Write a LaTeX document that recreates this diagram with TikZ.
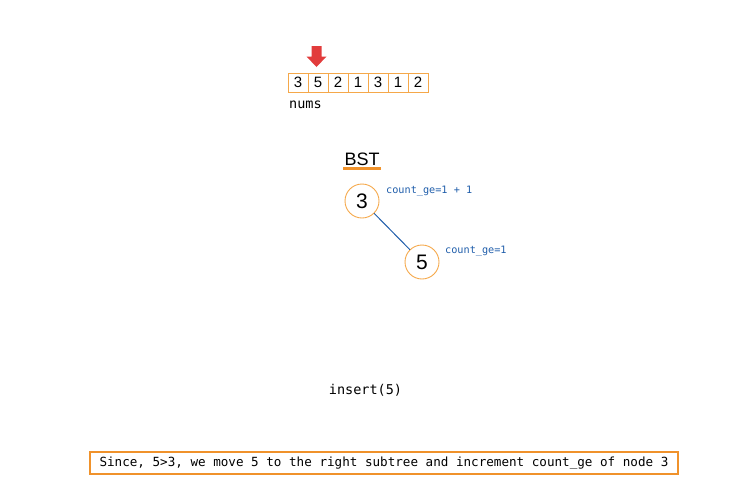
\documentclass[tikz,border=0pt]{standalone}
\usepackage{fontspec}
\setmainfont{Liberation Sans}
\setmonofont{DejaVu Sans Mono}
\usetikzlibrary{arrows.meta}
\begin{document}
\begin{tikzpicture}
[x=1pt,y=-1pt,line cap=round,
% Styles
cell/.style={draw=cellcolor,line width=1pt,minimum width=20pt,minimum height=19pt,inner sep=0pt,font=\fontsize{15}{15}\selectfont},
tree node/.style={circle,draw=cellcolor,line width=0.9pt,minimum size=34pt,inner sep=0pt,font=\fontsize{21}{21}\selectfont},
count text/.style={text=edgecolor,font=\ttfamily\fontsize{10.2}{10}\selectfont,anchor=west,inner sep=0pt},
mono text/.style={font=\ttfamily\fontsize{13.5}{14}\selectfont,inner sep=0pt}]
% Colors
\definecolor{cellcolor}{HTML}{F5A84A}
\definecolor{boxcolor}{HTML}{F0922B}
\definecolor{edgecolor}{HTML}{1F5DAA}
\definecolor{arrowcolor}{HTML}{E23C3C}
\useasboundingbox (0,0) rectangle (741,491);
% The array
\foreach \v [count=\i] in {3,5,2,1,3,1,2}
\node[cell] (c\i) at ({278+20*\i},82.5) {\v};
\node[mono text,anchor=west] (nums) at (289,105) {nums};
% The pointer
\coordinate (ptr) at (316.5,46);
\fill[arrowcolor] (ptr) ++(-5,0) -- ++(10,0) -- ++(0,10.5) -- ++(5,0) -- (316.5,67) -- (306.5,56.5) -- (311.5,56.5) -- cycle;
% The tree
\node[font=\fontsize{18}{18}\selectfont,inner sep=0pt] (bst) at (362,159) {BST};
\draw[boxcolor,line width=3pt,line cap=butt] (343,168) -- (381,168);
\node[tree node] (n3) at (362,201) {3};
\node[tree node] (n5) at (422,262) {5};
\draw[edgecolor,line width=1pt] (n3) -- (n5);
\node[count text] (g3) at (386,191) {count\_ge=1 + 1};
\node[count text] (g5) at (445,251) {count\_ge=1};
\node[mono text] (op) at (365.5,390) {insert(5)};
% The note
\node[draw=boxcolor,line width=1.5pt,minimum width=588pt,minimum height=22pt,inner sep=0pt,
font=\ttfamily\fontsize{12.6}{13}\selectfont] (note) at (384,463)
{Since, 5>3, we move 5 to the right subtree and increment count\_ge of node 3};
\end{tikzpicture}
\end{document}
